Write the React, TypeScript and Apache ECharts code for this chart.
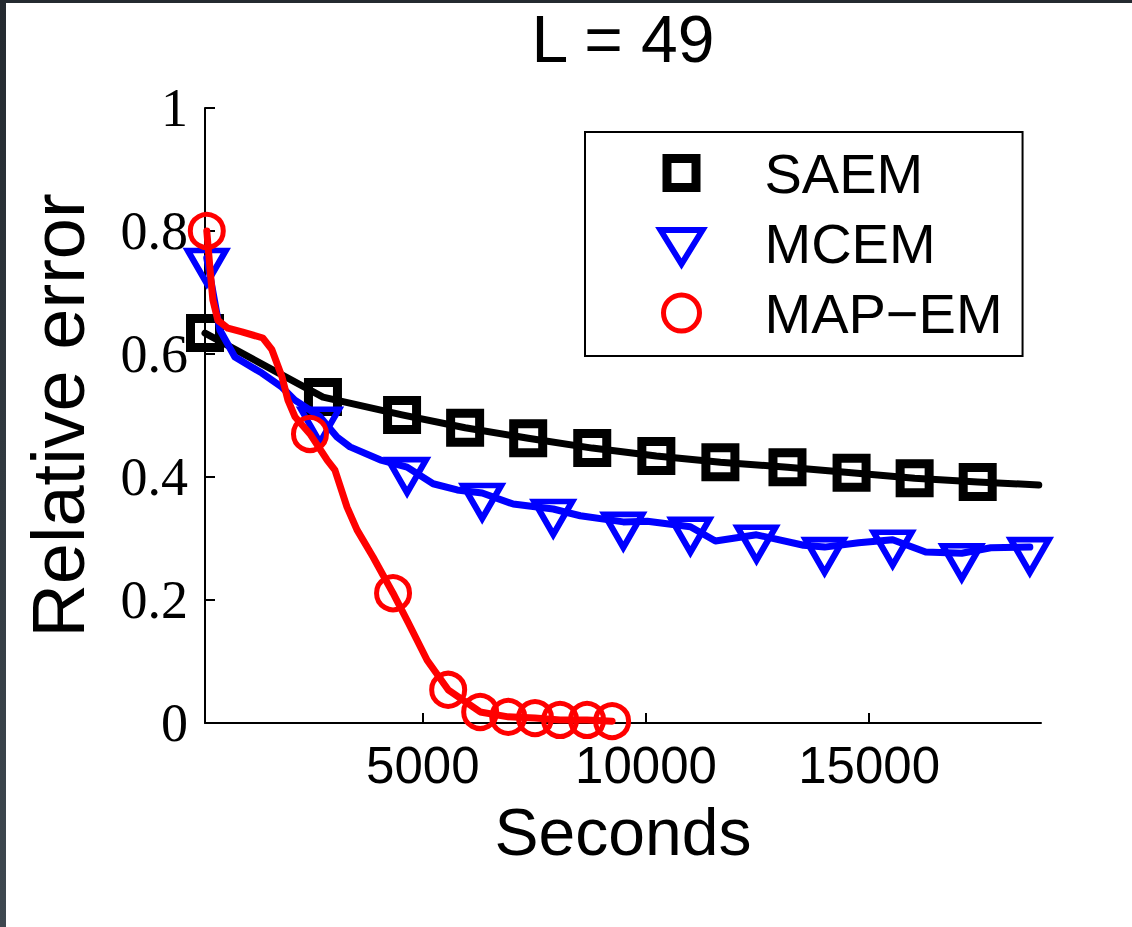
import React, { useEffect, useRef } from "react";
import * as echarts from "echarts";

// ---- text ----
const chartTitle = "L = 49";
const xAxisTitle = "Seconds";
const yAxisTitle = "Relative error";

// ---- axes ----
const xRange = [120, 18850];
const xTickValues = [5000, 10000, 15000];
const yRange = [0, 1];
const yTickStep = 0.2;

// ---- SAEM ----
const saemTime = [120, 2763, 4535, 5948, 7361, 8796, 10232, 11667, 13170, 14606, 16019, 17432, 18800];
const saemError = [0.634, 0.53, 0.501, 0.48, 0.463, 0.447, 0.434, 0.424, 0.416, 0.407, 0.398, 0.392, 0.387];
const saemMarked = [0, 1, 2, 3, 4, 5, 6, 7, 8, 9, 10, 11];

// ---- MCEM ----
const mcemTime = [
  160, 453, 790, 1395, 1844, 2135, 2696, 3077, 3369, 4042, 4648, 5231, 5769, 6330, 7025,
  7922, 8528, 9492, 10030, 10995, 11556, 12476, 13530, 14001, 14764, 15526, 16266, 17074, 17725, 18600,
];
const mcemError = [
  0.756, 0.639, 0.595, 0.569, 0.546, 0.525, 0.498, 0.465, 0.449, 0.428, 0.416, 0.389, 0.379, 0.374, 0.356,
  0.348, 0.337, 0.327, 0.328, 0.319, 0.296, 0.306, 0.289, 0.286, 0.293, 0.298, 0.278, 0.276, 0.285, 0.286,
];
const mcemMarked = [0, 6, 10, 13, 15, 17, 19, 21, 23, 25, 27, 29];

// ---- MAP-EM ----
const mapTime = [
  160, 229, 296, 408, 633, 947, 1418, 1619, 1844, 1978, 2135, 2472, 2853, 3032, 3302, 3526, 3885,
  4333, 4648, 5097, 5568, 6285, 6913, 7514, 8075, 8680, 9241,
];
const mapError = [
  0.8, 0.741, 0.688, 0.655, 0.642, 0.636, 0.626, 0.607, 0.563, 0.525, 0.498, 0.47, 0.428, 0.411, 0.351,
  0.314, 0.27, 0.211, 0.167, 0.102, 0.054, 0.018, 0.01, 0.008, 0.005, 0.005, 0.003,
];
const mapMarked = [0, 11, 17, 20, 21, 22, 23, 24, 25, 26];

const seriesNames = ["SAEM", "MCEM", "MAP\u2212EM"];

function buildPoints(times: number[], errors: number[], marked: number[]) {
  return times.map((t, i) => {
    const item: any = { value: [t, errors[i]] };
    if (marked.indexOf(i) < 0) item.symbol = "none";
    return item;
  });
}

// legend icons: the leading moveTo points fix the icon box so shapes keep their own size
const squareIcon = "path://M0,0M102,44M9.5,7.5h29v29h-29z";
const triangleIcon = "path://M0,0M102,44M3,9H45L24,43Z";
const circleIcon = "path://M0,0M102,44M6,22a18,18 0 1,0 36,0a18,18 0 1,0 -36,0z";

export default function App() {
  const ref = useRef<HTMLDivElement>(null);

  useEffect(() => {
    if (!ref.current) return;
    const chart = echarts.init(ref.current, null, { renderer: "svg" });
    const clear = "rgba(0,0,0,0)";
    const option: any = {
      animation: false,
      backgroundColor: "#ffffff",
      textStyle: { fontFamily: "Liberation Sans", color: "#000" },
      title: {
        text: chartTitle,
        left: 623,
        top: 6,
        padding: 0,
        textAlign: "center",
        textStyle: { fontSize: 66, fontWeight: "normal", color: "#000", fontFamily: "Liberation Sans" },
      },
      grid: { left: 205, top: 108, width: 836, height: 615, containLabel: false, outerBoundsMode: "none" },
      legend: {
        orient: "vertical",
        left: 585,
        top: 132,
        padding: [13, 20, 15, 68],
        itemGap: 14,
        itemWidth: 102,
        itemHeight: 44,
        selectedMode: false,
        backgroundColor: "#ffffff",
        borderColor: "#000",
        borderWidth: 2,
        textStyle: { fontSize: 56, lineHeight: 56, color: "#000", fontFamily: "Liberation Sans" },
        data: [
          { name: seriesNames[0], icon: squareIcon, itemStyle: { color: "#fff", borderColor: "#000", borderWidth: 9, borderJoin: "miter" } },
          { name: seriesNames[1], icon: triangleIcon, itemStyle: { color: "#fff", borderColor: "#0000ff", borderWidth: 6, borderJoin: "miter" } },
          { name: seriesNames[2], icon: circleIcon, itemStyle: { color: "#fff", borderColor: "#ff0000", borderWidth: 5 } },
        ],
      },
      xAxis: {
        type: "value",
        min: xRange[0],
        max: xRange[1],
        name: xAxisTitle,
        nameLocation: "middle",
        nameGap: 76,
        nameMoveOverlap: false,
        nameTextStyle: { fontSize: 66, color: "#000", fontFamily: "Liberation Sans" },
        axisLine: { onZero: false, lineStyle: { color: "#000", width: 2 } },
        axisTick: { inside: true, length: 10, customValues: xTickValues, lineStyle: { color: "#000", width: 2 } },
        axisLabel: {
          customValues: xTickValues,
          formatter: (v: number) => String(v),
          margin: 17,
          fontSize: 51,
          color: "#000",
          fontFamily: "Liberation Sans",
        },
        splitLine: { show: false },
      },
      yAxis: {
        type: "value",
        min: yRange[0],
        max: yRange[1],
        interval: yTickStep,
        name: yAxisTitle,
        nameLocation: "middle",
        nameGap: 110,
        nameMoveOverlap: false,
        nameTextStyle: { fontSize: 74, color: "#000", fontFamily: "Liberation Sans" },
        axisLine: { onZero: false, lineStyle: { color: "#000", width: 2 } },
        axisTick: { inside: true, length: 10, lineStyle: { color: "#000", width: 2 } },
        axisLabel: { margin: 17, fontSize: 54, color: "#000", fontFamily: "Liberation Serif" },
        splitLine: { show: false },
      },
      series: [
        {
          type: "line",
          name: seriesNames[0],
          data: buildPoints(saemTime, saemError, saemMarked),
          symbol: "rect",
          symbolSize: 29,
          lineStyle: { color: "#000", width: 7, cap: "round", join: "round" },
          itemStyle: { color: clear, borderColor: "#000", borderWidth: 9, borderJoin: "miter" },
          emphasis: { disabled: true },
          z: 2,
        },
        {
          type: "line",
          name: seriesNames[1],
          data: buildPoints(mcemTime, mcemError, mcemMarked),
          symbol: "triangle",
          symbolRotate: 180,
          symbolSize: [38, 33],
          symbolOffset: [0, 9],
          lineStyle: { color: "#0000ff", width: 7, cap: "round", join: "round" },
          itemStyle: { color: clear, borderColor: "#0000ff", borderWidth: 6, borderJoin: "miter" },
          emphasis: { disabled: true },
          z: 3,
        },
        {
          type: "line",
          name: seriesNames[2],
          data: buildPoints(mapTime, mapError, mapMarked),
          symbol: "circle",
          symbolSize: 33,
          lineStyle: { color: "#ff0000", width: 7, cap: "round", join: "round" },
          itemStyle: { color: clear, borderColor: "#ff0000", borderWidth: 5 },
          emphasis: { disabled: true },
          z: 4,
        },
      ],
    };
    chart.setOption(option);
    return () => chart.dispose();
  }, []);

  return (
    <div style={{ position: "fixed", left: 0, top: 0, width: 1132, height: 927, background: "#fff" }}>
      <div ref={ref} style={{ position: "absolute", left: 0, top: 0, width: 1132, height: 927 }} />
      <div style={{ position: "absolute", left: 0, top: 0, width: 1132, height: 3, background: "#242a30" }} />
      <div
        style={{
          position: "absolute",
          left: 0,
          top: 0,
          width: 6,
          height: 927,
          background: "linear-gradient(#242a30, #3e4850)",
        }}
      />
    </div>
  );
}
